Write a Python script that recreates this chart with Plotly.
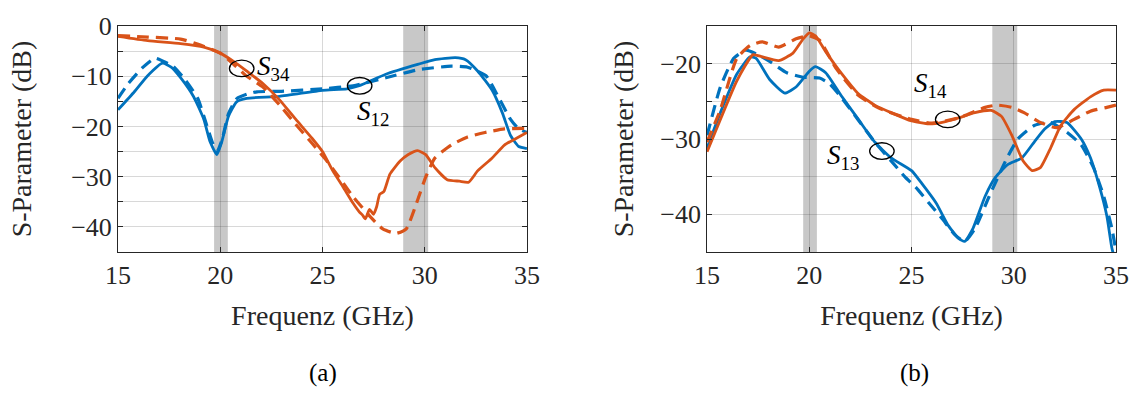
import plotly.graph_objects as go

# ---------------- data ----------------
# (a) left panel
s12_meas_x = [15, 15.8, 16.45, 17.18, 17.6, 18.06, 18.7, 19.2, 19.5, 19.84, 20.08, 20.4, 20.8, 21.3, 22.9, 25, 26.2, 26.8, 28.1, 29.7, 30.5, 31.5, 32, 32.6, 33.3, 33.8, 34.2, 34.6, 35]
s12_meas_y = [-16.7, -13.1, -9.9, -7.4, -8.2, -10.3, -14.1, -18.6, -23, -25.6, -23, -18, -15.1, -14.4, -14, -12.8, -12.5, -11.9, -9.6, -7.6, -6.7, -6.3, -6.7, -9, -12.8, -17.3, -21.8, -24, -24.4]
s12_sim_x = [15, 15.5, 16.2, 16.8, 17.2, 17.7, 18.3, 18.9, 19.35, 19.6, 19.85, 20.1, 20.4, 20.8, 21.3, 21.8, 23, 25, 26.5, 28.1, 29.7, 31.3, 32.1, 33, 33.6, 34.2, 34.6, 35]
s12_sim_y = [-14.4, -11.5, -8.3, -6.4, -7.0, -8.0, -10.8, -14.4, -19.9, -23, -25, -22.5, -17.5, -14.5, -13.6, -13.1, -13, -12.5, -11.9, -10.3, -8.7, -8.0, -8.2, -9.9, -14.1, -18.6, -20.5, -21.2]
s34_meas_x = [15, 16.45, 18.06, 19.2, 20, 20.65, 21.3, 22.1, 22.9, 23.7, 24.5, 25, 25.5, 26, 26.5, 26.8, 26.95, 27.1, 27.3, 27.5, 27.65, 27.8, 28.0, 28.3, 28.8, 29.2, 29.65, 30.05, 30.5, 31.1, 31.7, 32.15, 32.6, 33.3, 33.9, 34.6, 35]
s34_meas_y = [-2.05, -2.9, -3.5, -4.2, -5.4, -7.05, -9, -11.5, -14.7, -18.6, -22.4, -25, -28.8, -32, -35.3, -37.0, -37.6, -38.4, -36.5, -37.5, -36.0, -33.5, -33.0, -29.5, -26.9, -25.6, -24.8, -25.6, -28.2, -30.6, -30.9, -31.1, -28.8, -26.3, -23.7, -22.1, -21.2]
s34_sim_x = [15, 16.45, 18.06, 19.03, 20, 20.65, 21.3, 22.1, 22.9, 23.7, 24.5, 25.1, 25.7, 26.5, 27.3, 27.95, 28.6, 29.1, 29.6, 30.05, 30.5, 31.3, 32.1, 32.95, 33.9, 34.9]
s34_sim_y = [-1.9, -2.2, -2.6, -3.8, -5.4, -7.6, -10, -12.2, -15.7, -19.6, -23.4, -26.3, -29.5, -34, -37.8, -40.4, -41.3, -40.4, -35.3, -30.1, -26.3, -23.7, -22.1, -21.2, -20.5, -20.4]

# (b) right panel
s13_meas_x = [15, 15.65, 16.45, 17.1, 17.4, 18.06, 18.8, 19.35, 20, 20.3, 20.8, 21.6, 22.4, 23.2, 24, 25, 25.5, 26.2, 26.8, 27.3, 27.6, 28, 28.6, 29.1, 29.7, 30.4, 31, 31.5, 32, 32.6, 33.3, 33.75, 34.2, 34.55, 34.8, 34.95]
s13_meas_y = [-31.2, -26.5, -21.4, -19.1, -19.3, -22.1, -23.9, -23.1, -21, -20.4, -21.2, -24.4, -27.4, -30.4, -32.5, -34.2, -35.9, -38.5, -41.5, -43.2, -43.6, -41.9, -37.6, -35.1, -33.4, -32.5, -30.4, -28.7, -27.7, -27.8, -30, -32.5, -36.4, -40.2, -44.5, -46]
s13_sim_x = [15, 15.65, 16.3, 16.9, 17.4, 18.06, 18.9, 19.7, 20.5, 21, 21.6, 23.2, 24, 24.7, 25.2, 25.85, 26.5, 27.15, 27.6, 28.1, 28.8, 29.6, 30.2, 31, 31.8, 32.6, 33.3, 33.9, 34.4, 34.8, 35]
s13_sim_y = [-29.5, -23.1, -19.3, -18.2, -18.7, -19.7, -21.2, -21.8, -21.9, -22.7, -24.6, -30.4, -32.9, -35.1, -36.4, -38.5, -40.6, -42.8, -43.6, -41.9, -37.6, -32.9, -30, -28.2, -27.8, -29.1, -30.8, -33.8, -37.6, -41.9, -44.9]
s14_meas_x = [15, 15.65, 16.45, 17.25, 17.7, 18.5, 19.2, 19.7, 20, 20.3, 20.8, 21.6, 22.4, 23.2, 24, 25, 25.85, 26.5, 27.3, 28.1, 28.9, 29.4, 29.9, 30.45, 30.9, 31.3, 31.8, 32.3, 32.95, 33.75, 34.4, 35]
s14_meas_y = [-31.7, -27.4, -22.3, -18.8, -19.1, -19.6, -18.6, -16.7, -15.9, -16.3, -18.4, -21.4, -24, -25.5, -26.5, -27.6, -28, -27.8, -27.2, -26.5, -26.2, -27, -29.5, -32.9, -34.2, -33.8, -31.2, -28.2, -26.1, -24.4, -23.5, -23.5]
s14_sim_x = [15, 15.65, 16.45, 17.1, 17.7, 18.5, 19.35, 20, 20.5, 21.3, 22.4, 23.4, 25, 26, 27.3, 28.6, 29.2, 29.9, 30.5, 31.3, 32.1, 32.95, 33.75, 34.55, 35]
s14_sim_y = [-30.4, -26.1, -19.3, -17.6, -17.1, -17.8, -16.7, -16.3, -16.9, -20.6, -24.2, -25.9, -27.4, -27.9, -27.2, -25.8, -25.5, -25.8, -26.5, -27.8, -28.5, -27.4, -26.3, -25.8, -25.5]

bands = [(19.7, 20.37), (28.95, 30.17)]
x_ticks = [15, 20, 25, 30, 35]
left_y_ticks = [0, -5, -10, -15, -20, -25, -30, -35, -40, -45]
right_y_ticks = [-15, -20, -25, -30, -35, -40, -45]

BLUE = "#0072BD"
ORANGE = "#D95319"
FONT = "Liberation Serif, DejaVu Serif, serif"
AX = "#262626"

fig = go.Figure()

def add_line(x, y, color, dashed, xa, ya):
    fig.add_trace(go.Scatter(
        x=x, y=y, mode="lines", xaxis=xa, yaxis=ya, showlegend=False,
        line=dict(color=color, width=3.2 if dashed else 2.8,
                  dash="12px,7px" if dashed else "solid",
                  shape="spline", smoothing=0.5),
        hoverinfo="skip"))

add_line(s12_meas_x, s12_meas_y, BLUE, False, "x", "y")
add_line(s12_sim_x, s12_sim_y, BLUE, True, "x", "y")
add_line(s34_meas_x, s34_meas_y, ORANGE, False, "x", "y")
add_line(s34_sim_x, s34_sim_y, ORANGE, True, "x", "y")
add_line(s13_meas_x, s13_meas_y, BLUE, False, "x2", "y2")
add_line(s13_sim_x, s13_sim_y, BLUE, True, "x2", "y2")
add_line(s14_meas_x, s14_meas_y, ORANGE, False, "x2", "y2")
add_line(s14_sim_x, s14_sim_y, ORANGE, True, "x2", "y2")

shapes = []
for xr, yr in (("x", "y"), ("x2", "y2")):
    for b0, b1 in bands:
        shapes.append(dict(type="rect", xref=xr, yref=yr + " domain", x0=b0, x1=b1,
                           y0=0, y1=1, fillcolor="#c8c8c8", line_width=0, layer="below"))

def ellipse(xr, yr, cx, cy, w, h):
    shapes.append(dict(type="circle", xref=xr, yref=yr, x0=cx - w / 2, x1=cx + w / 2,
                       y0=cy - h / 2, y1=cy + h / 2, line=dict(color="black", width=1.3),
                       layer="above"))

ellipse("x", "y", 21.05, -8.45, 1.2, 3.3)
ellipse("x", "y", 26.82, -11.9, 1.2, 3.3)
ellipse("x2", "y2", 23.55, -31.6, 1.2, 2.2)
ellipse("x2", "y2", 26.77, -27.4, 1.2, 2.2)

# pixel helpers for paper-positioned text
L, R, T, B = 118, 15, 18, 142
W, H = 1141 - L - R, 394 - T - B
def px(xp):
    return (xp - L) / W
def py(yp):
    return (394 - B - yp) / H

annotations = []
def label(txt, xp, yp, size=27, anchor="left"):
    annotations.append(dict(text=txt, x=px(xp), y=py(yp), xref="paper", yref="paper",
                            showarrow=False, xanchor=anchor, yanchor="middle",
                            font=dict(family=FONT, size=size, color="black")))

label("<i>S</i><sub>34</sub>", 256, 62)
label("<i>S</i><sub>12</sub>", 357, 108)
label("<i>S</i><sub>13</sub>", 832, 154)
label("<i>S</i><sub>14</sub>", 920, 79)
label("(a)", 325, 377, size=25, anchor="center")
label("(b)", 922, 377, size=25, anchor="center")

def xaxis(domain, anchor):
    return dict(domain=domain, anchor=anchor, range=[15, 35], tickvals=x_ticks,
                ticktext=[str(v) for v in x_ticks], showgrid=True,
                gridcolor="rgba(38,38,38,0.18)", gridwidth=1, showline=True, mirror="ticks",
                linecolor=AX, linewidth=1, ticks="inside", ticklen=5, tickcolor=AX,
                zeroline=False, tickfont=dict(family=FONT, size=26, color=AX),
                title=dict(text="Frequenz (GHz)", standoff=16,
                           font=dict(family=FONT, size=28, color=AX)))

def yaxis(domain, anchor, rng, ticks, labeled, standoff):
    return dict(domain=domain, anchor=anchor, range=rng, tickvals=ticks,
                ticktext=[("\u2212" + str(-v) if v < 0 else str(v)) if v in labeled else "" for v in ticks],
                showgrid=True, gridcolor="rgba(38,38,38,0.18)", gridwidth=1,
                showline=True, mirror="ticks", linecolor=AX, linewidth=1,
                ticks="inside", ticklen=5, tickcolor=AX, zeroline=False,
                tickfont=dict(family=FONT, size=26, color=AX),
                title=dict(text="S-Parameter (dB)", standoff=standoff,
                           font=dict(family=FONT, size=28, color=AX)))

xl = 0.0
xr_end = (531 - L) / W
x2_start = (713 - L) / W

fig.update_layout(
    width=1141, height=394,
    margin=dict(l=L, r=R, t=T, b=B),
    paper_bgcolor="white", plot_bgcolor="white",
    font=dict(family=FONT, size=26, color=AX),
    xaxis=xaxis([xl, xr_end], "y"),
    yaxis=yaxis([0, 1], "x", [-45, 0], left_y_ticks, [0, -10, -20, -30, -40], 31),
    xaxis2=xaxis([x2_start, 1], "y2"),
    yaxis2=yaxis([0, 1], "x2", [-45, -15], right_y_ticks, [-20, -30, -40], 18),
    shapes=shapes, annotations=annotations,
)

fig.write_html("out.html")
